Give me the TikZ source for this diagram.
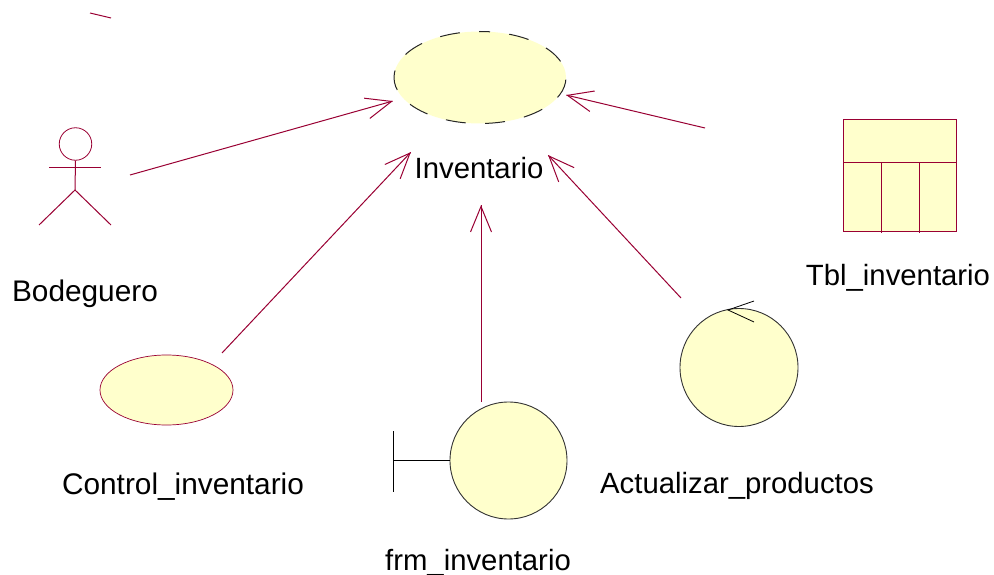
\documentclass[tikz,border=0pt]{standalone}
\usepackage{fontspec}
\setmainfont{Liberation Sans}
\usetikzlibrary{arrows.meta,shapes.geometric}
\definecolor{rosered}{HTML}{990033}
\definecolor{roseyellow}{HTML}{FFFFCC}
\pgfdeclarearrow{
  name=Rose Barb,
  setup code={
    \pgfarrowssettipend{0pt}
    \pgfarrowssetlineend{-0.5pt}
    \pgfarrowssetbackend{-27pt}
    \pgfarrowssetvisualbackend{-0.5pt}
    \pgfarrowshullpoint{-27pt}{10.5pt}
    \pgfarrowshullpoint{-27pt}{-10.5pt}
    \pgfarrowshullpoint{0pt}{0pt}
  },
  drawing code={
    \pgfsetdash{}{0pt}
    \pgfsetmiterjoin
    \pgfpathmoveto{\pgfqpoint{-27pt}{10.5pt}}
    \pgfpathlineto{\pgfqpoint{-1.5pt}{0pt}}
    \pgfpathlineto{\pgfqpoint{-27pt}{-10.5pt}}
    \pgfusepathqstroke
  }
}
\tikzstyle{label}=[inner sep=0pt,font=\fontsize{29.3}{36}\selectfont]
\tikzstyle{wide label}=[label,font=\fontsize{29.8}{36}\selectfont]
\tikzstyle{usecase}=[ellipse,draw=rosered,fill=roseyellow,line width=0.7pt,inner sep=0pt]
\tikzstyle{class circle}=[circle,draw=black!80,fill=roseyellow,line width=0.9pt,inner sep=0pt]
\tikzstyle{line}=[draw,rosered,line width=1pt]
\tikzstyle{dep}=[line,-{Rose Barb}]
\tikzstyle{thin black}=[draw,black,line width=1pt]

\begin{document}
\begin{tikzpicture}[x=1pt,y=-1pt]
    \useasboundingbox (0,0) rectangle (994,575);

    % use case with dashed border
    \node[ellipse,fill=roseyellow,minimum width=172pt,minimum height=92pt,inner sep=0pt] (main) at (480,77.5) {};
    \draw[black!85,line width=1pt,dash pattern=on 20pt off 19.4pt,dash phase=10pt]
        (480,31.5) arc[start angle=-90,end angle=270,x radius=86,y radius=46];

    % actor
    \node[circle,draw=rosered,line width=0.8pt,minimum size=32.5pt,inner sep=0pt] (head) at (75.5,144) {};
    \coordinate (hip) at (75,190);
    \coordinate (armL) at (49,168);
    \coordinate (armR) at (101,168);
    \coordinate (footL) at (39,225);
    \coordinate (footR) at (111,225);
    \path[line] (head.south) -- (hip);
    \path[line] (armL) -- (armR);
    \path[line] (footL) -- (hip) -- (footR);

    % table
    \node[draw=rosered,fill=roseyellow,line width=0.9pt,minimum width=113pt,minimum height=112pt,inner sep=0pt] (tbl) at (899.5,175.5) {};
    \foreach \xpos in {881.5,919}
        \path[line] (\xpos,162) -- (\xpos,233);
    \path[line] (843,162.5) -- (956.5,162.5);

    % control, boundary, entity shapes
    \node[usecase,minimum width=133pt,minimum height=70pt] (control) at (166.5,390) {};
    \node[class circle,minimum size=117pt] (frm) at (508.5,460.5) {};
    \coordinate (barTop) at (393.5,431);
    \coordinate (barMid) at (393.5,460.5);
    \coordinate (barBot) at (393.5,492);
    \path[thin black] (barTop) -- (barBot);
    \path[thin black] (barMid) -- (frm.west);
    \node[class circle,minimum size=118pt] (act) at (739,367.5) {};
    \coordinate (tipA) at (728,310);
    \coordinate (tipB) at (754,301);
    \coordinate (tipC) at (754,322);
    \path[thin black,line width=0.8pt] (tipB) -- (tipA) -- (tipC);

    % labels
    \node[label] (l_main) at (479,168.5) {Inventario};
    \node[wide label] (l_actor) at (85,294) {Bodeguero};
    \node[label] (l_tbl) at (898,278) {Tbl\_inventario};
    \node[label] (l_act) at (737,486) {Actualizar\_productos};
    \node[wide label] (l_control) at (183,487) {Control\_inventario};
    \node[label] (l_frm) at (478,563) {frm\_inventario};

    % free ends of the connectors
    \foreach \xpos/\ypos/\name in {130/175/s1, 393/101/d1, 222/353/s2, 411/152/d2,
                                   481/402/s3, 481/205/d3, 681/298/s4, 548/155/d4,
                                   705/128/s5, 566/95/d5, 90/13/s6, 111/18/d6}
        \coordinate (\name) at (\xpos,\ypos);

    \foreach \source/ \dest in {s1/d1, s2/d2, s3/d3, s4/d4, s5/d5}
        \path[dep] (\source) -- (\dest);
    \path[line] (s6) -- (d6);

\end{tikzpicture}
\end{document}
